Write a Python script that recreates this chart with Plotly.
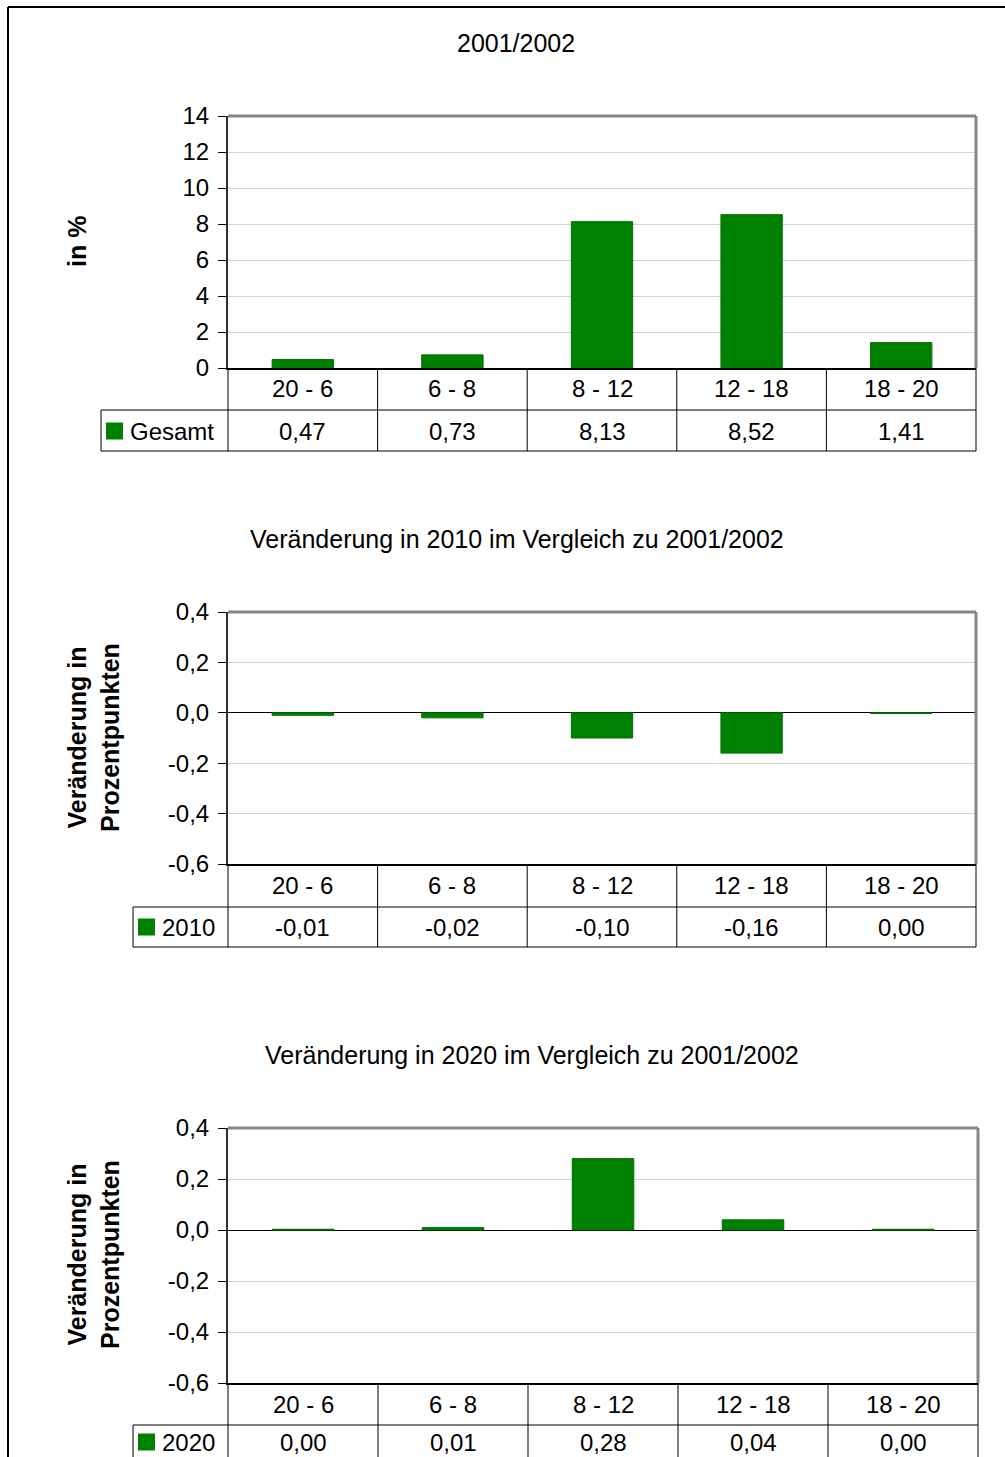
import plotly.graph_objects as go

# --- data ---
categories = ["20 - 6", "6 - 8", "8 - 12", "12 - 18", "18 - 20"]
gesamt_2001 = [0.47, 0.73, 8.13, 8.52, 1.41]
diff_2010 = [-0.01, -0.02, -0.10, -0.16, -0.003]
diff_2020 = [0.003, 0.01, 0.28, 0.04, 0.003]

ticks_abs = [0, 2, 4, 6, 8, 10, 12, 14]
ticks_abs_text = ["0", "2", "4", "6", "8", "10", "12", "14"]
ticks_diff = [-0.6, -0.4, -0.2, 0.0, 0.2, 0.4]
ticks_diff_text = ["-0,6", "-0,4", "-0,2", "0,0", "0,2", "0,4"]

W, H = 1005, 1457
GREEN = "#008000"
FONT = "Liberation Sans, Arial, sans-serif"


def X(px):
    return px / W


def Y(py):
    return 1 - py / H


def fmt(v):
    s = f"{v:.2f}"
    if s == "-0.00":
        s = "0.00"
    return s.replace(".", ",")


panels = [
    dict(name="Gesamt", values=gesamt_2001, title="2001/2002", title_x=516, title_y=43,
         ytitle="<b>in %</b>", ytitle_x=77, ytitle_y=242,
         x0=228, x1=976, top=116, bottom=368, head=410, foot=451, row=431, leg=101,
         rng=[0, 14], tv=ticks_abs, tt=ticks_abs_text),
    dict(name="2010", values=diff_2010, title="Veränderung in 2010 im Vergleich zu 2001/2002",
         title_x=517, title_y=539,
         ytitle="<b>Veränderung in<br>Prozentpunkten</b>", ytitle_x=93, ytitle_y=738,
         x0=228, x1=976, top=612, bottom=864, head=907, foot=947, row=927, leg=133,
         rng=[-0.6, 0.4], tv=ticks_diff, tt=ticks_diff_text),
    dict(name="2020", values=diff_2020, title="Veränderung in 2020 im Vergleich zu 2001/2002",
         title_x=532, title_y=1055,
         ytitle="<b>Veränderung in<br>Prozentpunkten</b>", ytitle_x=93, ytitle_y=1255,
         x0=228, x1=978, top=1128, bottom=1383, head=1425, foot=1470, row=1442, leg=133,
         rng=[-0.6, 0.4], tv=ticks_diff, tt=ticks_diff_text),
]

fig = go.Figure()
shapes = []
annotations = []
line_k = dict(color="black", width=1)
txt = dict(size=24, color="black", family=FONT)
txt_big = dict(size=25, color="black", family=FONT)

for i, p in enumerate(panels, start=1):
    xa = "x" if i == 1 else f"x{i}"
    ya = "y" if i == 1 else f"y{i}"
    fig.add_trace(go.Bar(
        x=categories, y=p["values"], xaxis=xa, yaxis=ya, width=0.41,
        marker=dict(color=GREEN, line=dict(color="#007000", width=1)),
        showlegend=False, hoverinfo="skip",
    ))
    fig.update_layout({
        f"xaxis{'' if i == 1 else i}": dict(
            domain=[X(p["x0"]), X(p["x1"])], anchor=ya, showticklabels=False,
            showgrid=False, showline=True, linecolor="black", linewidth=1.5,
            ticks="", fixedrange=True),
        f"yaxis{'' if i == 1 else i}": dict(
            domain=[Y(p["bottom"]), Y(p["top"])], anchor=xa, range=p["rng"],
            tickvals=p["tv"], ticktext=p["tt"], ticks="outside", ticklen=8,
            tickcolor="black", ticklabelstandoff=4, tickfont=txt,
            showline=True, linecolor="#303030", linewidth=2,
            showgrid=True, gridcolor="#d4d4d4", gridwidth=1,
            zeroline=True, zerolinecolor="black", zerolinewidth=1,
            fixedrange=True),
    })

    # gray top/right frame of the plot area
    shapes.append(dict(type="line", xref="paper", yref="paper",
                       x0=X(p["x0"]), x1=X(p["x1"]), y0=Y(p["top"]), y1=Y(p["top"]),
                       line=dict(color="#858585", width=3)))
    shapes.append(dict(type="line", xref="paper", yref="paper",
                       x0=X(p["x1"]), x1=X(p["x1"]), y0=Y(p["top"]), y1=Y(p["bottom"]),
                       line=dict(color="#858585", width=3)))

    # data table grid
    colw = (p["x1"] - p["x0"]) / len(categories)
    for k in range(len(categories) + 1):
        xx = p["x0"] + k * colw
        shapes.append(dict(type="line", xref="paper", yref="paper",
                           x0=X(xx), x1=X(xx), y0=Y(p["bottom"]), y1=Y(p["foot"]),
                           line=line_k))
    for yy in (p["head"], p["foot"]):
        shapes.append(dict(type="line", xref="paper", yref="paper",
                           x0=X(p["leg"]), x1=X(p["x1"]), y0=Y(yy), y1=Y(yy),
                           line=line_k))
    shapes.append(dict(type="line", xref="paper", yref="paper",
                       x0=X(p["leg"]), x1=X(p["leg"]), y0=Y(p["head"]), y1=Y(p["foot"]),
                       line=line_k))

    # legend key in the table
    row_mid = p["row"]
    shapes.append(dict(type="rect", xref="paper", yref="paper",
                       x0=X(p["leg"] + 5), x1=X(p["leg"] + 22),
                       y0=Y(row_mid - 8.5), y1=Y(row_mid + 8.5),
                       fillcolor=GREEN, line=dict(width=0)))
    annotations.append(dict(text=p["name"], xref="paper", yref="paper",
                            x=X(p["leg"] + 27), y=Y(row_mid), xanchor="left", yanchor="middle",
                            showarrow=False, font=txt))

    head_mid = (p["bottom"] + p["head"]) / 2
    for c, v in zip(categories, p["values"]):
        annotations.append(dict(text=c, xref=xa, yref="paper", x=c, y=Y(head_mid),
                                yanchor="middle", showarrow=False, font=txt))
        annotations.append(dict(text=fmt(v), xref=xa, yref="paper", x=c, y=Y(row_mid),
                                yanchor="middle", showarrow=False, font=txt))

    # titles
    annotations.append(dict(text=p["title"], xref="paper", yref="paper",
                            x=X(p["title_x"]), y=Y(p["title_y"]), xanchor="center",
                            yanchor="middle", showarrow=False, font=txt_big))
    annotations.append(dict(text=p["ytitle"], xref="paper", yref="paper",
                            x=X(p["ytitle_x"]), y=Y(p["ytitle_y"]), xanchor="center",
                            yanchor="middle", textangle=-90, showarrow=False, font=txt_big))

# outer frame (left and top edge of the chart area)
shapes.append(dict(type="line", xref="paper", yref="paper", x0=X(8), x1=X(8),
                   y0=Y(7), y1=0, line=dict(color="black", width=2)))
shapes.append(dict(type="line", xref="paper", yref="paper", x0=X(8), x1=1,
                   y0=Y(7), y1=Y(7), line=dict(color="black", width=2)))

fig.update_layout(
    width=W, height=H, autosize=False,
    margin=dict(l=0, r=0, t=0, b=0, autoexpand=False),
    paper_bgcolor="white", plot_bgcolor="white",
    font=dict(family=FONT, size=24, color="black"),
    shapes=shapes, annotations=annotations,
)

fig.write_html("out.html", config={"displayModeBar": False},
               post_script="document.body.style.margin='0';document.body.style.overflow='hidden';")
